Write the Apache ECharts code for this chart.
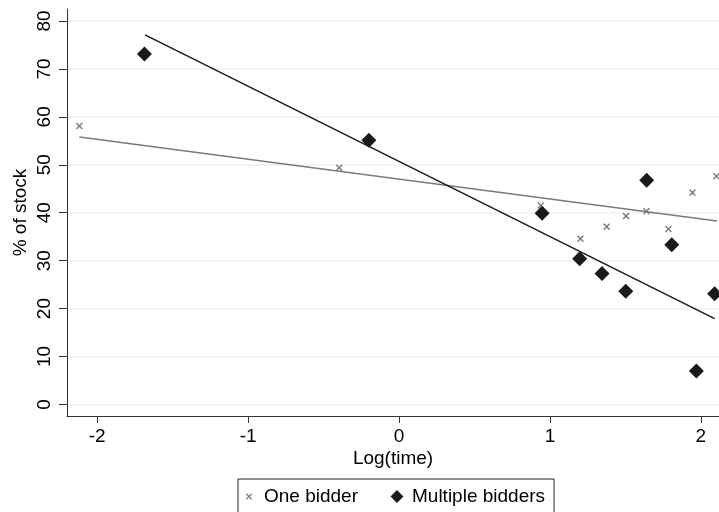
<!DOCTYPE html>
<html>
<head>
<meta charset="utf-8">
<script src="https://cdn.jsdelivr.net/npm/echarts@6/dist/echarts.min.js"></script>
<style>
  html, body { margin: 0; padding: 0; background: #fff; }
  #chart { width: 719px; height: 512px; }
</style>
</head>
<body>
<div id="chart"></div>
<script>
// one bidder (grey x)
var oneX = [-2.118, -0.396, 0.939, 1.202, 1.376, 1.504, 1.639, 1.785, 1.944, 2.103];
var oneY = [58.1, 49.4, 41.5, 34.6, 37.1, 39.3, 40.3, 36.6, 44.2, 47.6];
// multiple bidders (black diamonds)
var multiX = [-1.687, -0.200, 0.948, 1.197, 1.345, 1.502, 1.641, 1.807, 1.970, 2.091];
var multiY = [73.1, 55.1, 39.9, 30.4, 27.3, 23.6, 46.8, 33.3, 7.0, 23.1];
// fitted lines, end points
var oneFitX = [-2.118, 2.107];
var oneFitY = [55.8, 38.3];
var multiFitX = [-1.683, 2.091];
var multiFitY = [77.1, 17.9];
// tick labels
var xTicks = [-2, -1, 0, 1, 2];
var yTicks = [0, 10, 20, 30, 40, 50, 60, 70, 80];

function pairs(xs, ys) {
    var out = [];
    for (var i = 0; i < xs.length; i++) out.push([xs[i], ys[i]]);
    return out;
}

var crossPath = 'path://M1.5,0L5,3.5L8.5,0L10,1.5L6.5,5L10,8.5L8.5,10L5,6.5L1.5,10L0,8.5L3.5,5L0,1.5Z';
// legend icons: empty sub-paths pad the box so the marks keep their size
var crossIcon = 'path://M-6,-6ZM16,16ZM1.5,0L5,3.5L8.5,0L10,1.5L6.5,5L10,8.5L8.5,10L5,6.5L1.5,10L0,8.5L3.5,5L0,1.5Z';
var diamondIcon = 'path://M-2.7,-0.4ZM12.7,10.4ZM5,0L10,5L5,10L0,5Z';

var font = 'Liberation Sans, Arial, sans-serif';
var myChart = echarts.init(document.getElementById('chart'));

var option = {
    animation: false,
    backgroundColor: '#fff',
    textStyle: { fontFamily: font },
    grid: { left: 67, right: 0, top: 9, bottom: 96, outerBoundsMode: 'none' },
    legend: {
        left: 238,
        top: 479,
        orient: 'horizontal',
        borderColor: '#222',
        borderWidth: 1,
        borderRadius: 0,
        padding: [8, 9, 8, 4],
        itemWidth: 20,
        itemHeight: 14,
        itemGap: 29,
        textStyle: { fontSize: 19, color: '#000', fontFamily: font },
        data: [
            { name: 'One bidder', icon: crossIcon, itemStyle: { color: '#808080' } },
            { name: 'Multiple bidders', icon: diamondIcon, itemStyle: { color: '#1a1a1a' } }
        ]
    },
    xAxis: {
        type: 'value',
        min: -2.2,
        max: 2.12,
        name: 'Log(time)',
        nameLocation: 'middle',
        nameMoveOverlap: false,
        nameGap: 33,
        nameTextStyle: { fontSize: 19, color: '#000', fontFamily: font },
        axisLine: { show: true, onZero: false, lineStyle: { color: '#333', width: 1 } },
        axisTick: { show: true, length: 7, lineStyle: { color: '#333' }, customValues: xTicks },
        axisLabel: { fontSize: 19, color: '#000', margin: 11, customValues: xTicks },
        splitLine: { show: false }
    },
    yAxis: {
        type: 'value',
        min: -2.4,
        max: 82.5,
        name: '% of stock',
        nameLocation: 'middle',
        nameRotate: 90,
        nameMoveOverlap: false,
        nameGap: 37,
        nameTextStyle: { fontSize: 19, color: '#000', fontFamily: font },
        axisLine: { show: true, onZero: false, lineStyle: { color: '#333', width: 1 } },
        axisTick: { show: true, length: 8, lineStyle: { color: '#333' }, customValues: yTicks },
        axisLabel: { fontSize: 19, color: '#000', rotate: 90, margin: 13, customValues: yTicks },
        splitLine: { show: true, lineStyle: { color: '#eaf1f3', width: 1.5 } }
    },
    series: [
        {
            name: 'One bidder',
            type: 'scatter',
            symbol: crossPath,
            symbolSize: 7,
            itemStyle: { color: '#808080', opacity: 1 },
            data: pairs(oneX, oneY)
        },
        {
            name: 'Multiple bidders',
            type: 'scatter',
            symbol: 'diamond',
            symbolSize: 15,
            itemStyle: { color: '#1a1a1a', opacity: 1 },
            data: pairs(multiX, multiY)
        },
        {
            name: 'fit one',
            type: 'line',
            showSymbol: false,
            symbol: 'none',
            lineStyle: { color: '#7a7a7a', width: 1.5 },
            data: pairs(oneFitX, oneFitY)
        },
        {
            name: 'fit multi',
            type: 'line',
            showSymbol: false,
            symbol: 'none',
            lineStyle: { color: '#1a1a1a', width: 1.5 },
            data: pairs(multiFitX, multiFitY)
        }
    ]
};
myChart.setOption(option);
</script>
</body>
</html>
